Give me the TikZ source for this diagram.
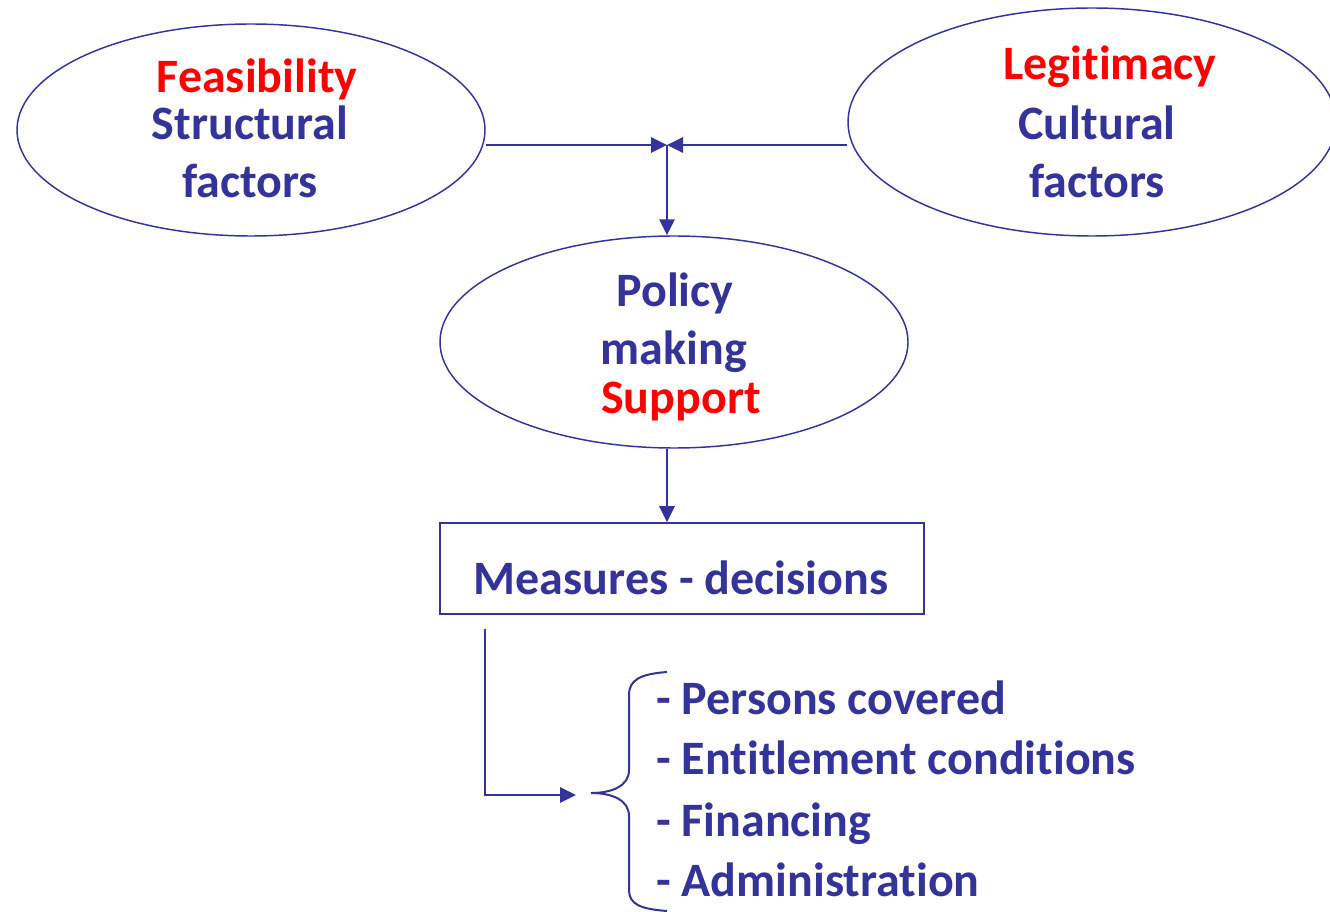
\documentclass[tikz,border=0pt]{standalone}
\usepackage{fontspec}
\setmainfont[Ligatures={NoCommon}]{Carlito}
\usetikzlibrary{shapes.geometric,arrows.meta}
\definecolor{dkblue}{RGB}{51,51,153}
\definecolor{hired}{RGB}{255,0,0}
\begin{document}
\begin{tikzpicture}[x=0.75pt,y=-0.75pt,
  oval/.style={draw=dkblue,line width=1.1pt,ellipse,inner sep=0pt},
  txt/.style={font=\fontsize{36}{43}\selectfont\bfseries,text=dkblue,inner sep=0pt,anchor=base},
  red/.style={txt,text=hired},
  link/.style={draw=dkblue,line width=1.5pt,->,>={Triangle[length=12pt,width=11.5pt]}}]
\useasboundingbox (0,0) rectangle (1330,912);

\node[oval,minimum width=351pt,minimum height=159pt] (feas) at (251,130) {};
\node[oval,minimum width=366pt,minimum height=171pt] (legit) at (1092,122) {};
\node[oval,minimum width=351pt,minimum height=159pt] (policy) at (674,342) {};
\node[draw=dkblue,line width=1.5pt,minimum width=363pt,minimum height=68pt,inner sep=0pt] (measures) at (682,568.5) {};

\node[red] (feastxt) at (257,93) {Feasibility};
\node[txt] (structtxt) at (250,140) {Structural};
\node[txt] (factors1) at (250,198) {factors};
\node[red] (legittxt) at (1110,80) {Legitimacy};
\node[txt] (culttxt) at (1097,140) {Cultural};
\node[txt] (factors2) at (1097,198) {factors};
\node[txt] (policytxt) at (675,307) {Policy};
\node[txt] (makingtxt) at (674,365) {making};
\node[red] (supporttxt) at (681,413) {Support};
\node[txt] (meastxt) at (681,594) {Measures - decisions};

\node[txt,anchor=base west] (item1) at (656,714) {- Persons covered};
\node[txt,anchor=base west] (item2) at (656,774) {- Entitlement conditions};
\node[txt,anchor=base west] (item3) at (656,836) {- Financing};
\node[txt,anchor=base west] (item4) at (656,896) {- Administration};

\coordinate (join) at (667,145);
\coordinate (down) at (485,629);
\coordinate (corner) at (485,795);
\coordinate (tip) at (576,795);

\path[link] (feas.east |- join) -- (join);
\path[link] (legit.west |- join) -- (join);
\path[link] (join) -- (join |- policy.north);
\path[link] (join |- policy.south) -- (join |- measures.north);
\path[link] (down) -- (corner) -- (tip);

\draw[dkblue,line width=1.5pt] (667,672) .. controls (640,674) and (629,680) .. (629,695)
  -- (629,770) .. controls (629,786) and (612,793) .. (591,793)
  .. controls (612,793) and (629,800) .. (629,816)
  -- (629,890) .. controls (629,904) and (640,909) .. (667,911);
\end{tikzpicture}
\end{document}
